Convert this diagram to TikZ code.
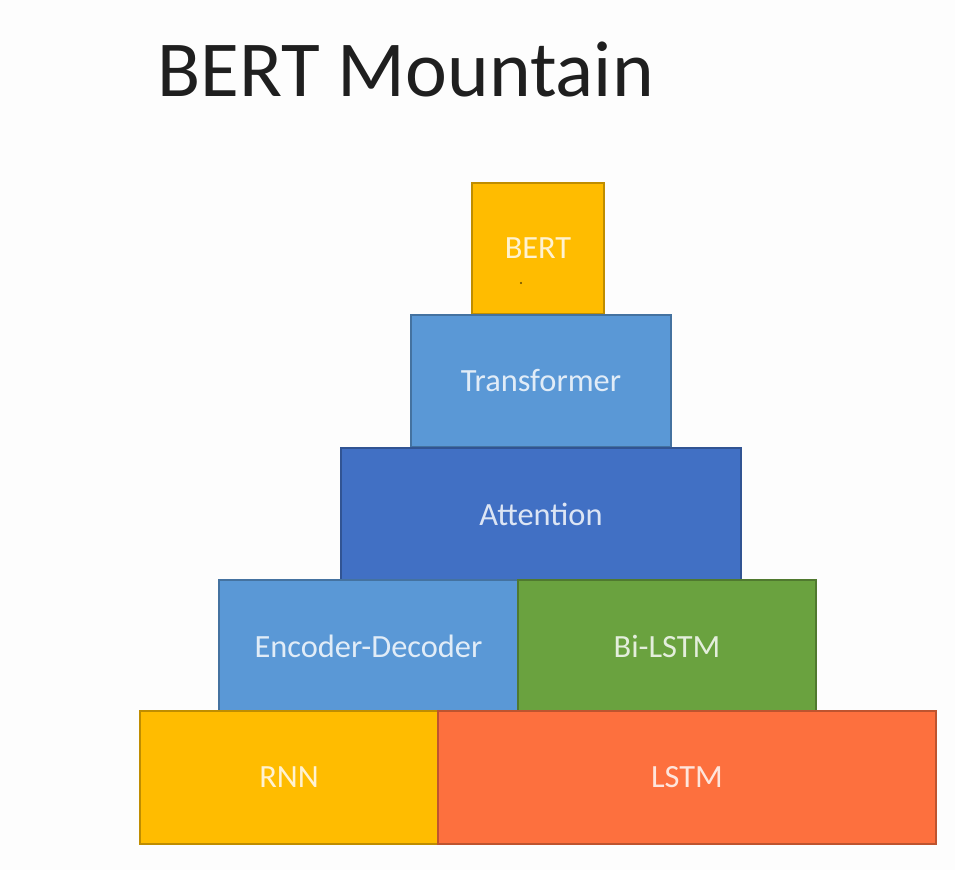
\documentclass[tikz,border=0pt]{standalone}
\usepackage{fontspec}
\setmainfont{Carlito}
\definecolor{pgold}{HTML}{FFBC00}
\definecolor{pblue}{HTML}{5A98D6}
\definecolor{pdeep}{HTML}{4170C4}
\definecolor{pgreen}{HTML}{6AA23F}
\definecolor{porange}{HTML}{FD703E}
\definecolor{pback}{HTML}{FDFDFD}
\tikzset{
  block/.style={rectangle, draw=#1!75!black, fill=#1, line width=0.8pt,
    text=white, text opacity=0.82, font=\fontsize{24.3}{28}\selectfont,
    inner sep=0pt},
  bw/.style={minimum width=#1*0.75pt},
  bh/.style={minimum height=#1*0.75pt}
}
\begin{document}
\begin{tikzpicture}[x=0.75pt, y=-0.75pt]
  % canvas
  \fill[pback] (0,0) rectangle (955,870);
  \useasboundingbox (0,0) rectangle (955,870);

  % heading
  \node[anchor=base west, inner sep=0pt, text=black!88,
        font=\fontsize{59.5}{64}\selectfont] (title) at (157,97) {BERT Mountain};

  % tiers of the mountain, top to bottom
  \node[block=pgold,   bw=132, bh=131] (bert)   at (538,248.5) {BERT};
  \node[block=pblue,   bw=260, bh=132] (trans)  at (541,381)   {Transformer};
  \node[block=pdeep,   bw=400, bh=132] (attn)   at (541,514)   {Attention};
  \node[block=pblue,   bw=299, bh=132] (encdec) at (368.5,646) {Encoder-Decoder};
  \node[block=pgreen,  bw=298, bh=132] (bilstm) at (667,646)   {Bi-LSTM};
  \node[block=pgold,   bw=298, bh=133] (rnn)    at (289,777.5) {RNN};
  \node[block=porange, bw=498, bh=133] (lstm)   at (687,777.5) {LSTM};

  % small mark inside the top block
  \fill[black!60!pgold] (521,283) circle (1.2);
\end{tikzpicture}
\end{document}
